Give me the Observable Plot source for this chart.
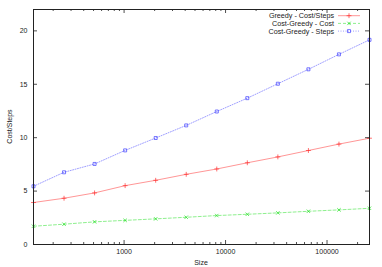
<!DOCTYPE html>
<html><head><meta charset="utf-8">
<script src="https://cdn.jsdelivr.net/npm/d3@7"></script>
<script src="https://cdn.jsdelivr.net/npm/@observablehq/plot@0.6"></script>
<style>
body{margin:0;background:#fff;}
svg{font-family:"Liberation Sans",Arial,sans-serif;}
</style>
</head><body>
<div id="chart"></div>
<script>
const sizes = [128, 256, 512, 1024, 2048, 4096, 8192, 16384, 32768, 65536, 131072, 262144];
const greedyCostSteps = [3.93, 4.33, 4.83, 5.51, 6.01, 6.57, 7.07, 7.65, 8.2, 8.8, 9.4, 9.95];
const costGreedyCost = [1.71, 1.9, 2.12, 2.26, 2.4, 2.55, 2.71, 2.83, 2.96, 3.11, 3.24, 3.39];
const costGreedySteps = [5.45, 6.76, 7.54, 8.81, 9.97, 11.15, 12.45, 13.7, 15.05, 16.4, 17.8, 19.16];
const seriesNames = ["Greedy - Cost/Steps", "Cost-Greedy - Cost", "Cost-Greedy - Steps"];
const seriesColors = ["#ff3030", "#20e020", "#4040ff"];
const seriesDash = [null, "3,2", "1,1.5"];
const seriesSymbols = ["plus", "times", "square"];
const xTickValues = [1000, 10000, 100000];
const yTickValues = [0, 5, 10, 15, 20];

const W = 382, H = 267, mL = 33, mR = 13, mT = 9, mB = 23;
const fw = W - mL - mR, fh = H - mT - mB;

const minorX = [];
for (let e = 2; e <= 5; e++) for (let m = 2; m <= 9; m++) {
  const v = m * 10 ** e; if (v >= 128 && v <= 262144) minorX.push(v);
}

const allSeries = [greedyCostSteps, costGreedyCost, costGreedySteps];
const rows = allSeries.map((vals, i) => sizes.map((s, j) => ({x: s, y: vals[j], k: i})));

const marks = [];
rows.forEach((r, i) => {
  marks.push(Plot.line(r, {x: "x", y: "y", stroke: seriesColors[i], strokeWidth: 0.6, strokeOpacity: 0.85, strokeDasharray: seriesDash[i]}));
  marks.push(Plot.dot(r, {x: "x", y: "y", symbol: () => seriesSymbols[i], r: 1.7, stroke: seriesColors[i], fill: "none", strokeWidth: 0.7}));
});
// ticks (inward, mirrored)
marks.push(Plot.ruleX(xTickValues, {x: d => d, insetTop: fh - 4, stroke: "#222", strokeWidth: 0.8}));
marks.push(Plot.ruleX(xTickValues, {x: d => d, insetBottom: fh - 4, stroke: "#222", strokeWidth: 0.8}));
marks.push(Plot.ruleX(minorX, {x: d => d, insetTop: fh - 2, stroke: "#222", strokeWidth: 0.8}));
marks.push(Plot.ruleX(minorX, {x: d => d, insetBottom: fh - 2, stroke: "#222", strokeWidth: 0.8}));
marks.push(Plot.ruleY(yTickValues, {y: d => d, insetRight: fw - 4, stroke: "#222", strokeWidth: 0.8}));
marks.push(Plot.ruleY(yTickValues, {y: d => d, insetLeft: fw - 4, stroke: "#222", strokeWidth: 0.8}));
marks.push(Plot.axisX(xTickValues, {tickSize: 0, tickPadding: 5, tickFormat: d => String(d), fontSize: 7, fill: "#222", label: null}));
marks.push(Plot.axisY(yTickValues, {tickSize: 0, tickPadding: 6, fontSize: 7, fill: "#222", label: null}));
marks.push(Plot.frame({stroke: "#222", strokeWidth: 1}));

const plot = Plot.plot({
  width: W, height: H,
  marginLeft: mL, marginRight: mR, marginTop: mT, marginBottom: mB,
  x: {type: "log", domain: [128, 262144]},
  y: {domain: [0, 22]},
  style: {fontFamily: "Liberation Sans, Arial, sans-serif", background: "#fff"},
  marks
});

const svg = d3.select(plot);
// axis titles
svg.append("text").attr("x", mL + fw / 2).attr("y", H - 2.5).attr("text-anchor", "middle")
  .attr("font-size", 7).attr("fill", "#222").text("Size");
svg.append("text").attr("transform", `translate(12,${mT + fh / 2}) rotate(-90)`).attr("text-anchor", "middle")
  .attr("font-size", 7).attr("fill", "#222").text("Cost/Steps");
// legend
const lg = svg.append("g");
seriesNames.forEach((name, i) => {
  const y = 15.7 + i * 7.7;
  lg.append("text").attr("x", 334).attr("y", y).attr("dy", "0.35em").attr("text-anchor", "end")
    .attr("font-size", 7.2).attr("fill", "#222").text(name);
  lg.append("line").attr("x1", 338).attr("x2", 360).attr("y1", y).attr("y2", y)
    .attr("stroke", seriesColors[i]).attr("stroke-width", 0.6).attr("stroke-opacity", 0.85).attr("stroke-dasharray", seriesDash[i]);
  const sym = d3.symbol(seriesSymbols[i] === "plus" ? d3.symbolPlus : seriesSymbols[i] === "times" ? d3.symbolTimes : d3.symbolSquare, 1.7 * 1.7 * Math.PI);
  lg.append("path").attr("d", sym()).attr("transform", `translate(349,${y})`)
    .attr("fill", "none").attr("stroke", seriesColors[i]).attr("stroke-width", 0.7);
});

document.getElementById("chart").appendChild(plot);
</script>
</body></html>
